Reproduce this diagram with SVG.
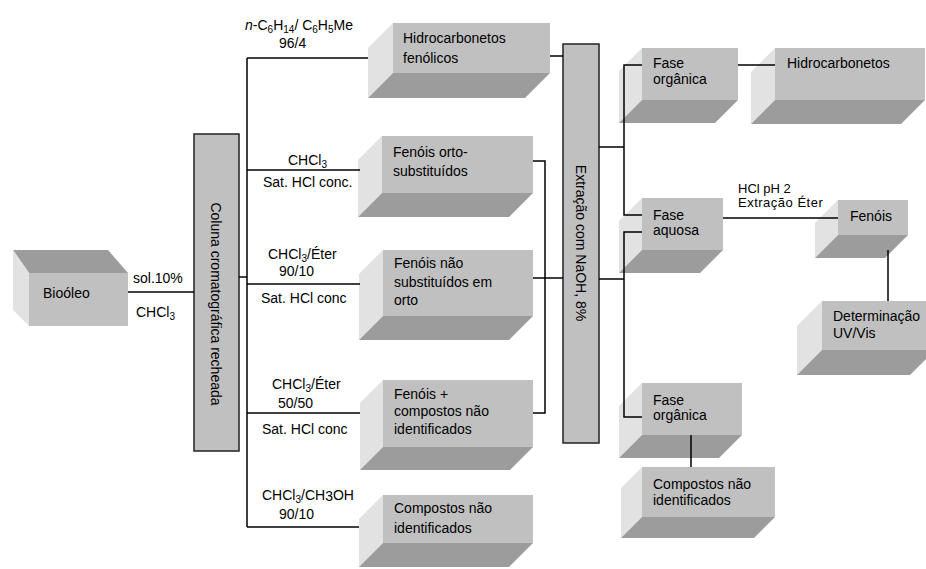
<svg xmlns="http://www.w3.org/2000/svg" width="926" height="569" viewBox="0 0 926 569">
<style>
text{font-family:"Liberation Sans",Arial,sans-serif;font-size:14px;fill:#000}
.fr{fill:#c0c0c0}
.lf{fill:#e2e2e2}
.bt{fill:#9c9c9c}
.col{fill:#c0c0c0;stroke:#222;stroke-width:1.5}
.ln{fill:none;stroke:#000;stroke-width:1.5}
.sm{font-size:13px}
</style>
<rect width="926" height="569" fill="#fff"/>

<g id="biooleo">
<polygon class="bt" points="29,273 128,273 108,250 13,250"/>
<polygon class="lf" points="13,250 29,273 29,326 13,310"/>
<rect class="fr" x="29" y="273" width="99" height="53"/>
<text x="43" y="298" font-size="17">Bioóleo</text>
</g>

<g id="coluna">
<rect class="col" x="194" y="134" width="45" height="317"/>
<text transform="translate(216,304) rotate(90)" text-anchor="middle" dominant-baseline="central" font-size="16">Coluna cromatográfica recheada</text>
</g>

<g id="hidrofenolicos">
<polygon class="lf" points="393,23 393,73 368,98 368,48"/>
<polygon class="bt" points="393,73 550,73 525,98 368,98"/>
<rect class="fr" x="393" y="23" width="157" height="50"/>
<text x="403" y="43">Hidrocarbonetos</text>
<text x="403" y="63">fenólicos</text>
</g>

<g id="fenoisorto">
<polygon class="lf" points="382,136 382,193 358,217 358,160"/>
<polygon class="bt" points="382,193 533,193 509,217 358,217"/>
<rect class="fr" x="382" y="136" width="151" height="57"/>
<text x="393" y="157">Fenóis orto-</text>
<text x="393" y="176">substituídos</text>
</g>

<g id="fenoisnao">
<polygon class="lf" points="383,250 383,316 359,340 359,274"/>
<polygon class="bt" points="383,316 533,316 509,340 359,340"/>
<rect class="fr" x="383" y="250" width="150" height="66"/>
<text x="394" y="268">Fenóis não</text>
<text x="394" y="287">substituídos em</text>
<text x="394" y="305">orto</text>
</g>

<g id="fenoismais">
<polygon class="lf" points="383,380 383,447 360,470 360,403"/>
<polygon class="bt" points="383,447 533,447 510,470 360,470"/>
<rect class="fr" x="383" y="380" width="150" height="67"/>
<text x="394" y="399">Fenóis +</text>
<text x="394" y="416">compostos não</text>
<text x="394" y="434">identificados</text>
</g>

<g id="compostos1">
<polygon class="lf" points="383,495 383,543 359,567 359,519"/>
<polygon class="bt" points="383,543 533,543 509,567 359,567"/>
<rect class="fr" x="383" y="495" width="150" height="48"/>
<text x="394" y="513">Compostos não</text>
<text x="394" y="533">identificados</text>
</g>

<g id="extracao">
<rect class="col" x="563" y="44" width="36" height="399"/>
<text transform="translate(581,243) rotate(90)" text-anchor="middle" dominant-baseline="central" font-size="15">Extração com NaOH, 8%</text>
</g>

<g id="faseorg1">
<polygon class="lf" points="642,48 642,100 619,123 619,71"/>
<polygon class="bt" points="642,100 738,100 715,123 619,123"/>
<rect class="fr" x="642" y="48" width="96" height="52"/>
<text x="653" y="68">Fase</text>
<text x="653" y="84">orgânica</text>
</g>

<g id="hidrocarbonetos">
<polygon class="lf" points="775,48 775,100 751,124 751,72"/>
<polygon class="bt" points="775,100 925,100 901,124 751,124"/>
<rect class="fr" x="775" y="48" width="150" height="52"/>
<text x="787" y="68">Hidrocarbonetos</text>
</g>

<g id="faseaquosa">
<polygon class="lf" points="642,198 642,250 619,273 619,221"/>
<polygon class="bt" points="642,250 723,250 700,273 619,273"/>
<rect class="fr" x="642" y="198" width="81" height="52"/>
<text x="653" y="220">Fase</text>
<text x="653" y="235">aquosa</text>
</g>

<g id="fenois">
<polygon class="lf" points="838,200 838,235 815,258 815,223"/>
<polygon class="bt" points="838,235 908,235 885,258 815,258"/>
<rect class="fr" x="838" y="200" width="70" height="35"/>
<text x="850" y="221">Fenóis</text>
</g>

<g id="determinacao">
<polygon class="lf" points="822,301 822,350 797,375 797,326"/>
<polygon class="bt" points="822,350 935,350 910,375 797,375"/>
<rect class="fr" x="822" y="301" width="113" height="49"/>
<text x="833" y="321">Determinação</text>
<text x="833" y="338">UV/Vis</text>
</g>

<g id="faseorg2">
<polygon class="lf" points="642,383 642,435 619,458 619,406"/>
<polygon class="bt" points="642,435 742,435 719,458 619,458"/>
<rect class="fr" x="642" y="383" width="100" height="52"/>
<text x="653" y="405">Fase</text>
<text x="653" y="420">orgânica</text>
</g>

<g id="compostos2">
<polygon class="lf" points="642,467 642,517 621,538 621,488"/>
<polygon class="bt" points="642,517 775,517 754,538 621,538"/>
<rect class="fr" x="642" y="467" width="133" height="50"/>
<text x="653" y="489">Compostos não</text>
<text x="653" y="505">identificados</text>
</g>

<g id="connectors">
<path class="ln" d="M128,292 H194"/>
<path class="ln" d="M239,277 H247"/>
<path class="ln" d="M247,58 V527"/>
<path class="ln" d="M247,58 H368"/>
<path class="ln" d="M247,170 H360"/>
<path class="ln" d="M247,284 H360"/>
<path class="ln" d="M247,413 H360"/>
<path class="ln" d="M247,527 H359"/>
<path class="ln" d="M550,56 H563"/>
<path class="ln" d="M533,161 H545 V413 H533"/>
<path class="ln" d="M533,278 H563"/>
<path class="ln" d="M599,147 H624"/>
<path class="ln" d="M642,65 H624 V215 H642"/>
<path class="ln" d="M599,279 H624"/>
<path class="ln" d="M642,232 H624 V417 H642"/>
<path class="ln" d="M738,65 H775"/>
<path class="ln" d="M723,218 H838"/>
<path class="ln" d="M888,250 V301"/>
<path class="ln" d="M691,435 V467"/>
</g>

<g id="labels">
<text x="133" y="283">sol.10%</text>
<text x="136" y="317">CHCl<tspan font-size="10" dy="3">3</tspan></text>
<text x="245" y="30"><tspan font-style="italic">n</tspan>-C<tspan font-size="10" dy="3">6</tspan><tspan dy="-3">H</tspan><tspan font-size="10" dy="3">14</tspan><tspan dy="-3">/ C</tspan><tspan font-size="10" dy="3">6</tspan><tspan dy="-3">H</tspan><tspan font-size="10" dy="3">5</tspan><tspan dy="-3">Me</tspan></text>
<text x="279" y="48">96/4</text>
<text x="288" y="165">CHCl<tspan font-size="10" dy="3">3</tspan></text>
<text x="263" y="187">Sat. HCl conc.</text>
<text x="268" y="259">CHCl<tspan font-size="10" dy="3">3</tspan><tspan dy="-3">/Éter</tspan></text>
<text x="279" y="276">90/10</text>
<text x="261" y="303">Sat. HCl conc</text>
<text x="272" y="389">CHCl<tspan font-size="10" dy="3">3</tspan><tspan dy="-3">/Éter</tspan></text>
<text x="278" y="408">50/50</text>
<text x="262" y="434">Sat. HCl conc</text>
<text x="262" y="500">CHCl<tspan font-size="10" dy="3">3</tspan><tspan dy="-3">/CH</tspan><tspan dy="1">3</tspan><tspan dy="-1">OH</tspan></text>
<text x="279" y="519">90/10</text>
<text class="sm" x="738" y="193">HCl pH 2</text>
<text class="sm" x="738" y="207" letter-spacing="0.5">Extração Éter</text>
</g>
</svg>
